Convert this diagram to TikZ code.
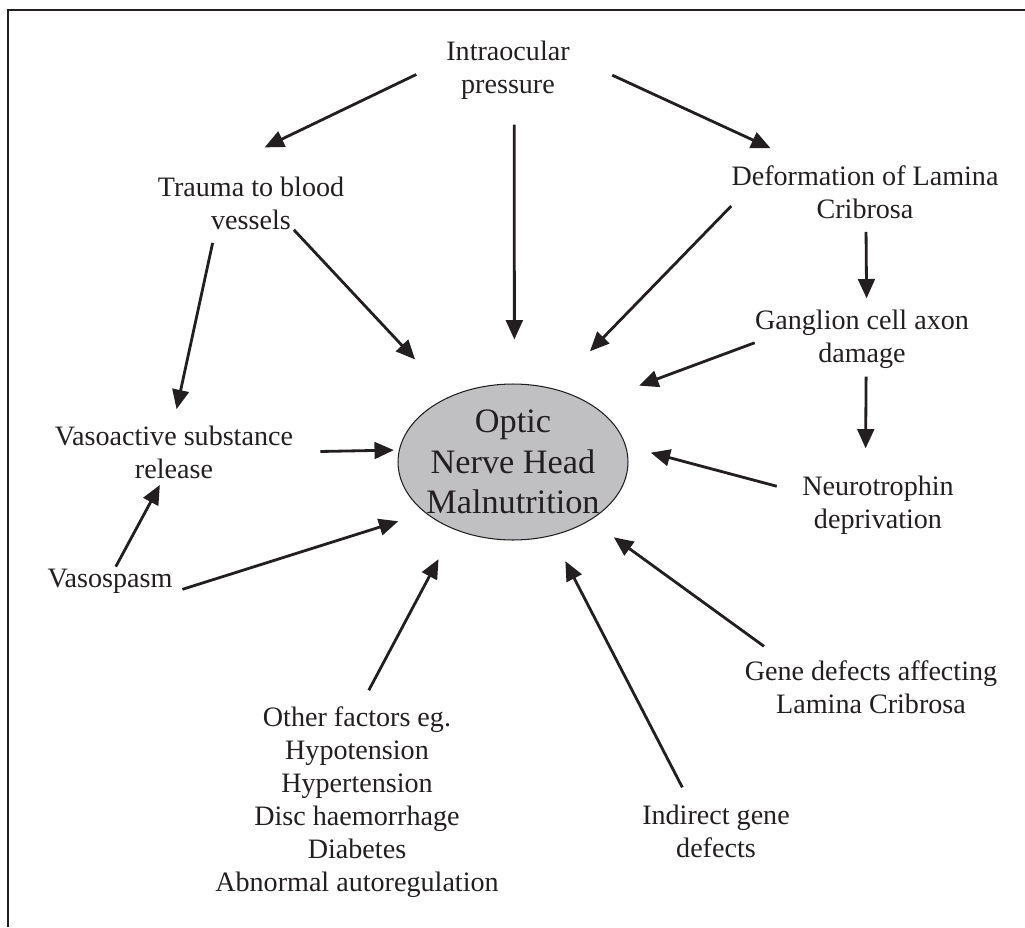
\documentclass[tikz,border=0pt]{standalone}
\usepackage{fontspec}
\setmainfont{Liberation Serif}
\usetikzlibrary{arrows.meta,shapes.geometric}
\definecolor{ink}{HTML}{231F20}
\definecolor{discgray}{HTML}{C0C0C2}

\begin{document}
\begin{tikzpicture}[x=0.02cm, y=-0.02cm]
  % Styles
  \tikzset{
    factor/.style={align=center, inner sep=0pt, text=ink, font=\fontsize{16}{18.8}\selectfont},
    core/.style={ellipse, draw=ink, line width=0.6pt, fill=discgray, align=center, text=ink,
      inner xsep=-10pt, inner ysep=-10pt, minimum width=4.6cm, minimum height=3.12cm,
      font=\fontsize{19.5}{23}\selectfont},
    link/.style={-{Triangle[length=11pt,width=9.5pt]}, line width=1.6pt, draw=ink},
    boxline/.style={line width=1.1pt, draw=ink},
  }
  \useasboundingbox (0,0) rectangle (1025,927);

  % Frame
  \draw[boxline] (8,927) -- (8,10) -- (1025,10);

  % Centre
  \node[core] (onh) at (513,462) {Optic\\Nerve Head\\Malnutrition};

  % Factors
  \node[factor] (iop)      at (508,70)  {Intraocular\\pressure};
  \node[factor] (trauma)   at (251,203) {Trauma to blood\\vessels};
  \node[factor] (deform)   at (865,192) {Deformation of Lamina\\Cribrosa};
  \node[factor] (ganglion) at (862,339) {Ganglion cell axon\\damage};
  \node[factor] (vasoact)  at (174,452) {Vasoactive substance\\release};
  \node[factor] (neuro)    at (878,505) {Neurotrophin\\deprivation};
  \node[factor] (vasosp)   at (110,581) {Vasospasm};
  \node[factor] (genedef)  at (871,687) {Gene defects affecting\\Lamina Cribrosa};
  \node[factor] (other)    at (357,802) {Other factors eg.\\Hypotension\\Hypertension\\Disc haemorrhage\\Diabetes\\Abnormal autoregulation};
  \node[factor] (indirect) at (716,831) {Indirect gene\\defects};

  % Links
  \draw[link, shorten <=0.66cm, shorten >=1.33cm] (iop.171.8) -- (trauma.150.9);
  \draw[link, shorten <=0.5cm, shorten >=0.88cm] (iop.282.1) -- (onh.89.5);
  \draw[link, shorten <=0.93cm, shorten >=0.81cm] (iop.13.2) -- (deform.155.5);
  \draw[link, shorten >=1.01cm] (trauma.328.2) -- (onh.134.5);
  \draw[link, shorten >=1.04cm] (deform.186.4) -- (onh.61.6);
  \draw[link, shorten <=0.26cm, shorten >=0.22cm] (deform.272) -- (ganglion.81.9);
  \draw[link, shorten >=1.04cm] (ganglion.182.9) -- (onh.37.7);
  \draw[link, shorten <=0.16cm, shorten >=0.54cm] (ganglion.278.1) -- (neuro.113.2);
  \draw[link, shorten <=0.52cm, shorten >=0.51cm] (neuro.171.7) -- (onh.8.5);
  \draw[link, shorten <=0.47cm, shorten >=0.58cm] (genedef.163.1) -- (onh.323.4);
  \draw[link, shorten <=0.38cm, shorten >=0.57cm] (indirect.133.1) -- (onh.298);
  \draw[link, shorten <=0.36cm, shorten >=0.67cm] (other.88) -- (onh.229.8);
  \draw[link, shorten <=0.28cm, shorten >=0.56cm] (vasosp.348.5) -- (onh.210.5);
  \draw[link, shorten <=0.04cm, shorten >=0.14cm] (vasosp.69) -- (vasoact.248.7);
  \draw[link, shorten <=0.27cm, shorten >=0.33cm] (trauma.217) -- (vasoact.92.9);
  \draw[link, shorten <=0.54cm, shorten >=0.1cm] (vasoact.0.5) -- (onh.174.5);
\end{tikzpicture}
\end{document}
